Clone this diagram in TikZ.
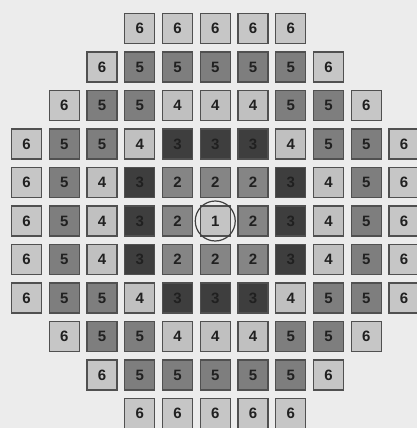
\documentclass[tikz,border=0pt]{standalone}
\usepackage{fontspec}
\setmainfont{Liberation Sans}
\definecolor{bgc}{HTML}{ECECEC}
\definecolor{bordc}{HTML}{505050}
\definecolor{digitc}{HTML}{202020}
\definecolor{c1}{HTML}{C4C4C4}
\definecolor{c2}{HTML}{858585}
\definecolor{c3}{HTML}{3E3E3E}
\definecolor{c4}{HTML}{C0C0C0}
\definecolor{c5}{HTML}{7E7E7E}
\definecolor{c6}{HTML}{C6C6C6}
\definecolor{ringc}{HTML}{404040}
\begin{document}
\begin{tikzpicture}[x=1pt,y=-1pt,
  tile/.style={draw=bordc, line width=1.4pt, minimum size=30pt, inner sep=0pt,
    font=\fontsize{15}{18}\selectfont\bfseries, text=digitc},
  ring/.style={draw=ringc, line width=1.2pt}]
\fill[bgc] (0,0) rectangle (417,428);
\useasboundingbox (0,0) rectangle (417,428);
\foreach \r/\s/\vals in {
  0/3/{6,6,6,6,6},
  1/2/{6,5,5,5,5,5,6},
  2/1/{6,5,5,4,4,4,5,5,6},
  3/0/{6,5,5,4,3,3,3,4,5,5,6},
  4/0/{6,5,4,3,2,2,2,3,4,5,6},
  5/0/{6,5,4,3,2,1,2,3,4,5,6},
  6/0/{6,5,4,3,2,2,2,3,4,5,6},
  7/0/{6,5,5,4,3,3,3,4,5,5,6},
  8/1/{6,5,5,4,4,4,5,5,6},
  9/2/{6,5,5,5,5,5,6},
  10/3/{6,6,6,6,6}}{
  \foreach \v [count=\i from 0] in \vals {
    \pgfmathtruncatemacro\cc{\s+\i}
    \node[tile, fill=c\v] (t-\r-\cc) at ({26.5+37.75*\cc}, {28.5+38.5*\r}) {\v};
  }
}
\draw[ring] (t-5-5.center) circle (20pt);
\end{tikzpicture}
\end{document}
